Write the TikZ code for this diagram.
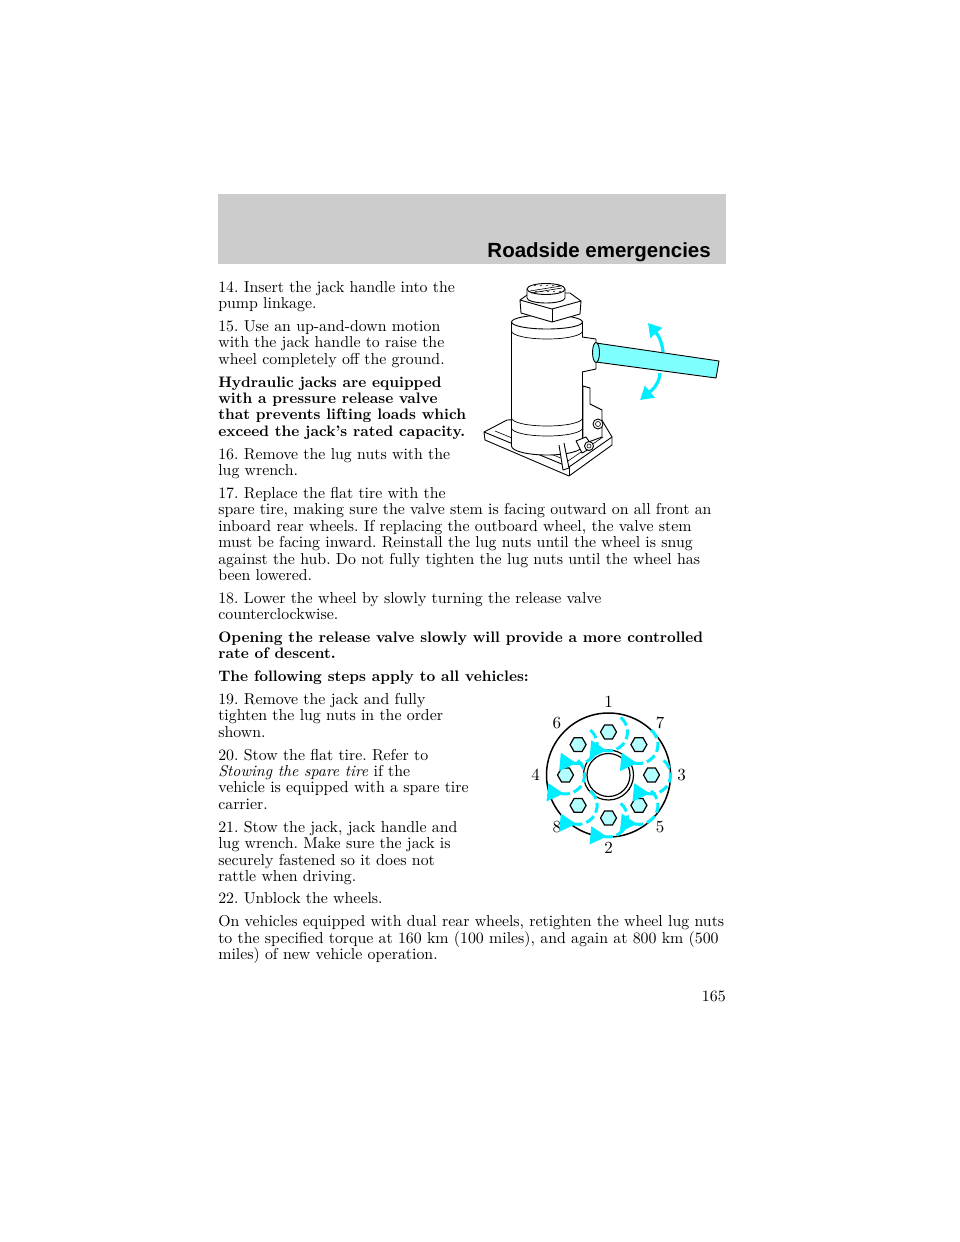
\documentclass[tikz,border=0pt]{standalone}
\usepackage{fontspec}
\usepackage{tikz}
\usetikzlibrary{shapes.geometric,arrows.meta}
\newfontfamily\headfont{Liberation Sans}
\definecolor{headgray}{HTML}{CCCCCC}
\definecolor{handlecyan}{HTML}{80FFFF}
\definecolor{nutcyan}{HTML}{B3FFFF}
\definecolor{arrowcyan}{HTML}{00EEFF}
\frenchspacing

\tikzset{
  linebase/.style={anchor=base west,inner sep=0pt,transform shape},
  txt/.style={linebase,font=\fontsize{10}{11}\selectfont,scale=1.585},
  boldtxt/.style={linebase,font=\fontsize{10}{11}\selectfont\bfseries,scale=1.52},
  nut/.style={regular polygon,regular polygon sides=6,draw,line width=1.2pt,fill=nutcyan,minimum size=16pt,inner sep=0pt},
  num/.style={inner sep=0pt,font=\fontsize{10}{11}\selectfont,scale=1.7,transform shape},
  swirl/.style={draw=arrowcyan,line width=3pt,dash pattern=on 10pt off 4pt,-{Triangle[length=16pt,width=18pt]}},
  handarrow/.style={draw=arrowcyan,line width=3.2pt,-{Triangle[length=13pt,width=15pt]}},
  jack/.style={draw,line width=0.9pt,line join=round,fill=white}
}

\begin{document}
\begin{tikzpicture}[x=1pt,y=1pt]
    \useasboundingbox (0,0) rectangle (960,-1242);
    \fill[white] (0,0) rectangle (960,-1242);

    \fill[headgray] (218,-194) rectangle (726,-264);
    \node[anchor=base east,inner sep=0pt,font=\headfont\bfseries\fontsize{20.5}{22}\selectfont] (head) at (711,-257) {Roadside emergencies};

    \foreach \y/\t in {
        292/{14. Insert the jack handle into the},
        308/{pump linkage.},
        331/{15. Use an up-and-down motion},
        347/{with the jack handle to raise the},
        364/{wheel completely off the ground.},
        459/{16. Remove the lug nuts with the},
        475/{lug wrench.},
        498/{17. Replace the flat tire with the},
        514/{spare tire, making sure the valve stem is facing outward on all front an},
        531/{inboard rear wheels. If replacing the outboard wheel, the valve stem},
        547/{must be facing inward. Reinstall the lug nuts until the wheel is snug},
        564/{against the hub. Do not fully tighten the lug nuts until the wheel has},
        580/{been lowered.},
        603/{18. Lower the wheel by slowly turning the release valve},
        619/{counterclockwise.},
        704/{19. Remove the jack and fully},
        720/{tighten the lug nuts in the order},
        737/{shown.},
        760/{20. Stow the flat tire. Refer to},
        776/{\textit{Stowing the spare tire} if the},
        792/{vehicle is equipped with a spare tire},
        809/{carrier.},
        832/{21. Stow the jack, jack handle and},
        848/{lug wrench. Make sure the jack is},
        865/{securely fastened so it does not},
        881/{rattle when driving.},
        903/{22. Unblock the wheels.},
        926/{On vehicles equipped with dual rear wheels, retighten the wheel lug nuts},
        943/{to the specified torque at 160 km (100 miles), and again at 800 km (500},
        959/{miles) of new vehicle operation.}
    } {
        \node[txt] (ln\y) at (218,-\y) {\t};
    };

    \foreach \y/\t in {
        387/{Hydraulic jacks are equipped},
        403/{with a pressure release valve},
        419/{that prevents lifting loads which},
        436/{exceed the jack's rated capacity.},
        642/{Opening the release valve slowly will provide a more controlled},
        658/{rate of descent.},
        681/{The following steps apply to all vehicles:}
    } {
        \node[boldtxt] (ln\y) at (218,-\y) {\t};
    };

    \node[txt,anchor=base east] (page) at (726,-1001) {165};

    % jack
    \draw[jack] (484,-432) -- (507,-420) -- (600,-417) -- (612,-437) -- (612,-445) -- (569,-476) -- (485,-440) -- cycle;
    \draw[line width=0.9pt] (484,-432) -- (569,-467) -- (612,-437);
    \draw[line width=0.9pt] (569,-467) -- (569,-476);
    \draw[line width=0.6pt] (495,-431) -- (568,-461) -- (603,-437);
    \draw[jack] (511.5,-322) -- (511.5,-446) arc[start angle=180,end angle=360,x radius=35.5,y radius=9] -- (582.5,-322) -- cycle;
    \draw[line width=0.7pt] (511.5,-418) arc[start angle=180,end angle=360,x radius=35.5,y radius=8];
    \draw[line width=0.7pt] (511.5,-428) arc[start angle=180,end angle=360,x radius=35.5,y radius=8];
    \draw[jack] (547,-322) ellipse[x radius=35.5,y radius=7];
    \draw[line width=0.7pt] (511.5,-331) arc[start angle=180,end angle=360,x radius=35.5,y radius=8];
    \draw[jack] (520,-300) -- (530,-293) -- (570,-293) -- (581,-301) -- (580,-314) -- (552,-322) -- (521,-313) -- cycle;
    \draw[line width=0.9pt] (520,-300) -- (552,-309) -- (581,-301);
    \draw[line width=0.9pt] (552,-309) -- (552,-322);
    \draw[jack] (527,-289) -- (527,-298) arc[start angle=180,end angle=360,x radius=19,y radius=5] -- (565,-289);
    \draw[jack] (546,-289) ellipse[x radius=19,y radius=5.5];
    \draw[line width=0.6pt] (530,-291) -- (561,-286) (531,-293) -- (562,-288);
    \foreach \x in {534,540,546,552,558}
        \draw[line width=0.5pt] (\x,-286) -- (\x+2,-285) (\x+1,-292) -- (\x+3,-291);

    \draw[jack] (582,-337) -- (596,-339) -- (596,-369) -- (582,-372);
    \draw[jack] (590,-388) -- (590,-404) -- (602,-410) -- (602,-437) -- (583,-444) -- (583,-386) -- cycle;
    \draw[jack] (598,-424) circle[radius=5];
    \draw[line width=0.6pt] (598,-424) circle[radius=2.5];
    \draw[jack] (576,-441) -- (586,-437) -- (593,-447) -- (582,-453) -- cycle;
    \draw[jack] (589,-446) circle[radius=4.5];
    \draw[line width=0.6pt] (589,-446) circle[radius=2];
    \draw[jack] (559,-445) -- (563,-470) -- (569,-468) -- (564,-443);

    \draw[jack,fill=handlecyan] (596,-343) -- (719,-361) -- (716,-378) -- (596,-362) -- cycle;
    \draw[jack,fill=handlecyan] (596,-352.5) ellipse[x radius=3.5,y radius=10];

    \coordinate (upstart) at (663,-352);
    \coordinate (uptip) at (648,-323);
    \coordinate (downstart) at (660,-373);
    \coordinate (downtip) at (640,-400);
    \draw[handarrow] (upstart) to[out=95,in=-50] (uptip);
    \draw[handarrow] (downstart) to[out=-95,in=40] (downtip);

    % wheel
    \coordinate (hub) at (608.5,-775);
    \draw[line width=1.5pt] (hub) circle[radius=62];
    \draw[line width=1.2pt] (hub) circle[radius=25];
    \draw[line width=1.2pt] (hub) circle[radius=21.5];

    \foreach \n/\a in {1/90,7/45,3/0,5/-45,2/-90,8/-135,4/180,6/135} {
        \node[nut] (nut\n) at ([shift={(\a:43)}]hub) {};
        \node[num] (num\n) at ([shift={(\a:73)}]hub) {\n};
    };
    \foreach \n in {1,...,8}
        \draw[swirl] ([shift={(50:19)}]nut\n.center) arc[start angle=50,end angle=-155,radius=19];

\end{tikzpicture}
\end{document}
